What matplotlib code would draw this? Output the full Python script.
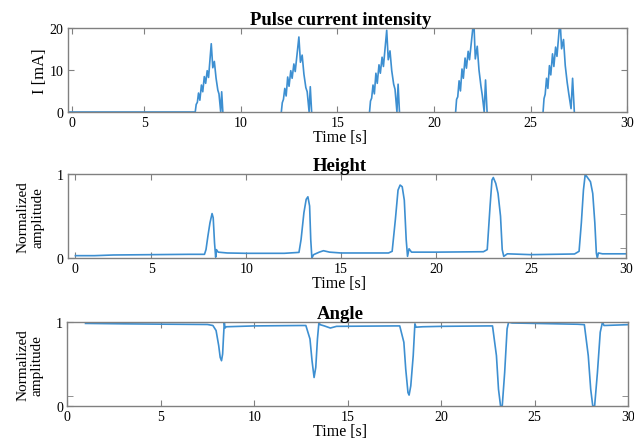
import matplotlib
matplotlib.use("Agg")
import matplotlib.pyplot as plt

# ---------------- data ----------------
# Pulse current intensity (t [s], I [mA]) per pulse
p1_t = [7.63, 7.68, 7.74, 7.80, 7.87, 7.95, 8.02, 8.10, 8.17, 8.25, 8.32, 8.46, 8.54, 8.62, 8.71, 8.80, 8.86, 8.95, 9.00, 9.06]
p1_i = [0.0, 1.8, 2.3, 4.5, 2.8, 6.4, 4.8, 8.4, 6.8, 9.8, 8.2, 16.2, 10.5, 12.0, 8.0, 5.2, 4.3, 0.0, 4.8, 0.0]
p2_t = [12.09, 12.14, 12.20, 12.27, 12.34, 12.42, 12.49, 12.58, 12.65, 12.74, 12.81, 13.00, 13.08, 13.17, 13.26, 13.36, 13.43, 13.53, 13.59, 13.66]
p2_i = [0.0, 2.2, 3.0, 5.6, 3.8, 8.3, 6.1, 9.8, 8.0, 11.4, 9.6, 17.8, 11.8, 13.5, 9.0, 5.8, 4.8, 0.0, 6.0, 0.0]
p3_t = [16.66, 16.71, 16.77, 16.84, 16.91, 16.99, 17.06, 17.15, 17.22, 17.31, 17.38, 17.55, 17.63, 17.72, 17.81, 17.91, 17.98, 18.08, 18.14, 18.21]
p3_i = [0.0, 2.6, 3.3, 6.4, 4.3, 9.2, 6.8, 11.2, 9.2, 13.0, 10.8, 19.4, 12.4, 14.5, 9.8, 6.6, 5.4, 0.0, 6.6, 0.0]
p4_t = [21.12, 21.17, 21.23, 21.30, 21.37, 21.45, 21.52, 21.61, 21.68, 21.77, 21.84, 22.06, 22.14, 22.24, 22.33, 22.43, 22.50, 22.60, 22.67, 22.75]
p4_i = [0.0, 3.0, 3.6, 7.4, 5.0, 10.2, 8.0, 12.8, 10.4, 14.4, 12.4, 22.0, 12.6, 15.6, 10.0, 6.2, 4.0, 0.0, 7.6, 0.0]
p5_t = [25.65, 25.70, 25.76, 25.83, 25.90, 25.98, 26.05, 26.14, 26.21, 26.30, 26.37, 26.53, 26.61, 26.71, 26.80, 26.90, 26.98, 27.10, 27.18, 27.27]
p5_i = [0.0, 3.2, 4.2, 8.0, 5.6, 11.0, 8.8, 13.8, 10.8, 15.4, 13.2, 22.0, 15.0, 17.2, 11.0, 7.0, 4.4, 0.8, 8.0, 0.0]

# Height (normalized amplitude)
h_t = [1.0, 2.0, 3.0, 5.0, 7.0, 7.80, 7.88, 7.98, 8.09, 8.20, 8.26, 8.33, 8.39, 8.43, 8.52, 9.0, 10.0, 12.0,
       12.78, 12.89, 13.04, 13.16, 13.25, 13.34, 13.40, 13.46, 13.55, 13.85, 14.07, 14.39, 15.0, 17.5,
       17.69, 17.86, 18.00, 18.11, 18.22, 18.33, 18.43, 18.50, 18.58, 18.71, 20.0, 22.5,
       22.70, 22.85, 22.95, 23.02, 23.15, 23.27, 23.40, 23.49, 23.57, 23.76, 25.0, 27.3,
       27.54, 27.66, 27.77, 27.86, 27.92, 28.14, 28.26, 28.37, 28.45, 28.50, 28.56, 28.77, 30.0]
h_v = [0.028, 0.028, 0.036, 0.040, 0.044, 0.044, 0.10, 0.26, 0.42, 0.53, 0.48, 0.18, 0.01, 0.10, 0.07, 0.06, 0.056, 0.056,
       0.067, 0.22, 0.54, 0.70, 0.73, 0.62, 0.22, 0.0, 0.04, 0.07, 0.087, 0.07, 0.06, 0.06,
       0.08, 0.46, 0.81, 0.87, 0.85, 0.69, 0.22, 0.02, 0.11, 0.07, 0.07, 0.075,
       0.10, 0.62, 0.93, 0.96, 0.89, 0.77, 0.50, 0.10, 0.02, 0.05, 0.04, 0.048,
       0.08, 0.42, 0.81, 0.99, 0.98, 0.91, 0.77, 0.42, 0.06, 0.0, 0.06, 0.05, 0.05]

# Angle (normalized amplitude)
a_t = [0.98, 3.0, 5.0, 7.5, 7.79, 7.96, 8.10, 8.18, 8.25, 8.31, 8.36, 8.40, 8.44, 8.50, 10.0, 12.5,
       12.76, 12.98, 13.09, 13.20, 13.29, 13.38, 13.46, 13.52, 13.75, 14.07, 14.40, 17.5,
       17.78, 18.00, 18.10, 18.22, 18.28, 18.37, 18.50, 18.59, 18.65, 19.0, 20.0, 22.5,
       22.74, 22.95, 23.06, 23.17, 23.26, 23.39, 23.52, 23.60, 23.78, 25.0, 27.3,
       27.65, 27.86, 27.99, 28.10, 28.20, 28.35, 28.50, 28.62, 28.70, 30.0]
a_v = [0.985, 0.98, 0.976, 0.972, 0.96, 0.90, 0.72, 0.58, 0.54, 0.62, 0.84, 1.0, 0.93, 0.945, 0.955, 0.96,
       0.96, 0.80, 0.54, 0.34, 0.46, 0.80, 1.0, 0.97, 0.955, 0.93, 0.95, 0.955,
       0.955, 0.76, 0.44, 0.16, 0.13, 0.24, 0.60, 0.98, 0.94, 0.945, 0.95, 0.955,
       0.955, 0.60, 0.20, 0.0, 0.0, 0.40, 0.92, 1.0, 0.99, 0.985, 0.975,
       0.97, 0.60, 0.20, 0.0, 0.0, 0.40, 0.88, 1.0, 0.96, 0.97]

x_ticks = [5, 10, 15, 20, 25, 30]
x_tick_labels = ["0", "5", "10", "15", "20", "25", "30"]

# ---------------- styling ----------------
plt.rcParams['font.family'] = ['Liberation Serif', 'DejaVu Serif']
LINE = '#3d8fd1'
SPINE = '#808080'

fig = plt.figure(figsize=(6.34, 4.39), dpi=100)

def style(ax, xlim, zero_pos):
    ax.set_xlim(*xlim)
    ax.set_xticks([zero_pos] + x_ticks)
    ax.set_xticklabels(x_tick_labels)
    for s in ax.spines.values():
        s.set_color(SPINE)
        s.set_linewidth(1.0)
    ax.tick_params(which='both', direction='in', top=True, right=True, length=4,
                   color=SPINE, labelsize=10, pad=3)
    ax.set_xlabel('Time [s]', fontsize=11.5)
    ax.xaxis.set_label_coords(0.487, -0.205)

# Top: pulse current
ax1 = fig.add_axes([0.107, 0.7426, 0.882, 0.192])
for t, i in [(p1_t, p1_i), (p2_t, p2_i), (p3_t, p3_i), (p4_t, p4_i), (p5_t, p5_i)]:
    ax1.plot(t, i, color=LINE, lw=1.2)
ax1.plot([1.03, p1_t[0]], [0, 0], color=LINE, lw=1.2)
ax1.set_ylim(0, 20)
ax1.set_yticks([0, 10, 20])
style(ax1, (1.03, 30), 1.25)
ax1.set_ylabel('I [mA]', fontsize=12)
ax1.yaxis.set_label_coords(-0.036, 0.5)
ax1.set_title('Pulse current intensity', fontsize=13.5, fontweight='bold', x=0.487, pad=3)

# Middle: height
ax2 = fig.add_axes([0.107, 0.410, 0.880, 0.191])
ax2.plot(h_t, h_v, color=LINE, lw=1.2)
ax2.set_ylim(0, 1)
ax2.set_yticks([0, 1])
ax2.set_yticks([0.12, 0.52], minor=True)
ax2.tick_params(which='minor', left=False)
style(ax2, (0.6, 30), 1.0)
ax2.set_ylabel('Normalized\namplitude', fontsize=11, linespacing=1.15)
ax2.yaxis.set_label_coords(-0.042, 0.5)
ax2.set_title('Height', fontsize=13.5, fontweight='bold', x=0.487, pad=3)

# Bottom: angle
ax3 = fig.add_axes([0.106, 0.0729, 0.885, 0.191])
ax3.plot(a_t, a_v, color=LINE, lw=1.2)
ax3.set_ylim(0, 1)
ax3.set_yticks([0, 1])
ax3.set_yticks([0.12], minor=True)
style(ax3, (0, 30), 0)
ax3.set_ylabel('Normalized\namplitude', fontsize=11, linespacing=1.15)
ax3.yaxis.set_label_coords(-0.042, 0.5)
ax3.set_title('Angle', fontsize=13.5, fontweight='bold', x=0.487, pad=3)

fig.savefig('out.png', dpi=100)
